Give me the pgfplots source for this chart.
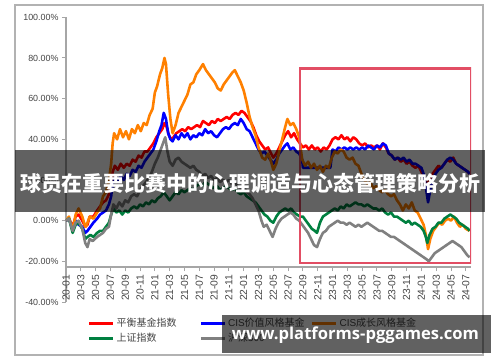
\documentclass[border=0pt]{standalone}
\usepackage{pgfplots}
\pgfplotsset{compat=1.18}
\usepackage{fontspec}
\setmainfont{Liberation Sans}
\newfontfamily\cjk{Noto Sans CJK SC}
\newfontfamily\urlfont{Open Sans}
\definecolor{sRed}{RGB}{255,0,0}
\definecolor{sBlue}{RGB}{0,0,255}
\definecolor{sOrange}{RGB}{255,128,0}
\definecolor{sGreen}{RGB}{0,128,64}
\definecolor{sGray}{RGB}{128,128,128}
\definecolor{rectRed}{RGB}{226,78,100}
\definecolor{axGray}{RGB}{166,166,166}
\definecolor{lblGray}{RGB}{70,70,70}
\begin{document}
\begin{tikzpicture}
\useasboundingbox (0pt,0pt) rectangle (500pt,-362pt);
\fill[white] (0pt,0pt) rectangle (500pt,-362pt);
\draw[black!30, line width=1.2pt] (15pt,-5pt) rectangle (483pt,-355pt);
\begin{axis}[
  at={(66pt,-302pt)}, anchor=south west,
  width=405pt, height=284.7pt, scale only axis,
  xmin=0, xmax=54.7, ymin=-40, ymax=100,
  axis x line*=bottom, axis y line*=left,
  axis x line shift=-35pt,
  axis line style={axGray, line width=1.5pt, -},
  tick style={axGray, line width=1pt},
  tick align=outside, major tick length=4pt,
  xtick={0,2,...,54},
  xticklabels={20-01,20-03,20-05,20-07,20-09,20-11,21-01,21-03,21-05,21-07,21-09,21-11,22-01,22-03,22-05,22-07,22-09,22-11,23-01,23-03,23-05,23-07,23-09,23-11,24-01,24-03,24-05,24-07},
  ytick={-40,-20,...,100},
  yticklabels={-40.00\%,-20.00\%,0.00\%,20.00\%,40.00\%,60.00\%,80.00\%,100.00\%},
  xticklabel style={rotate=90, anchor=east, font=\fontsize{10.3}{12}\selectfont, text=lblGray},
  yticklabel style={font=\fontsize{8.9}{10}\selectfont, text=lblGray},
  every axis plot/.append style={line width=2.6pt, line join=round},
  legend style={at={(axis description cs:0.054,-0.05)}, anchor=north west, draw=none, fill=none,
    font=\fontsize{10}{12}\selectfont, text=lblGray, legend columns=3,
    /tikz/every even column/.append style={column sep=0pt}, row sep=1pt, inner sep=0pt},
  legend image code/.code={\draw[#1, line width=2.5pt] (0pt,0pt) -- (24pt,0pt);},
  legend cell align=left,
]
\addplot[sRed] coordinates {(0,0) (0.4,1) (0.9,-3) (1.3,2) (1.7,3) (2.2,0) (2.6,-3) (2.9,-2) (3.2,2) (3.7,2) (4.2,5) (4.6,7) (5.0,9) (5.4,10) (5.8,13) (6.1,18) (6.3,24) (6.6,27) (7.0,25) (7.4,28) (7.8,26) (8.2,28) (8.6,27) (9.0,30) (9.4,29) (9.8,32) (10.2,31) (10.6,34) (11.0,34) (11.4,36) (11.8,38) (12.2,41) (12.6,43) (13.0,45) (13.3,48) (13.6,46) (13.9,42) (14.2,40) (14.5,41) (14.9,43) (15.3,44) (15.7,45) (16.1,44) (16.5,46) (16.9,45) (17.3,46) (17.7,47) (18.1,46) (18.5,49) (18.9,48) (19.3,47) (19.7,49) (20.1,48) (20.5,50) (20.9,49) (21.3,50) (21.7,51) (22.1,50) (22.5,52) (22.9,53) (23.3,52) (23.7,54) (24.1,53) (24.5,51) (24.9,49) (25.3,46) (25.7,42) (26.1,39) (26.5,37) (26.9,35) (27.3,36) (27.7,33) (28.0,31) (28.4,33) (28.8,36) (29.2,39) (29.6,42) (30.0,44) (30.4,41) (30.8,43) (31.2,40) (31.6,38) (32.0,36) (32.4,37) (32.8,35) (33.2,37) (33.6,35) (34.0,36) (34.4,34) (34.8,36) (35.2,35) (35.6,37) (36.0,40) (36.4,41) (36.8,40) (37.2,42) (37.6,40) (38.0,41) (38.4,39) (38.8,41) (39.2,40) (39.6,38) (40.0,37) (40.4,38) (40.8,36) (41.2,37) (41.6,36) (42.0,37) (42.4,35) (42.8,38) (43.2,36) (43.6,33) (44.0,32) (44.4,30) (44.8,31) (45.2,29) (45.6,30) (46.0,28) (46.4,29) (46.8,27) (47.2,26) (47.6,27) (48.0,24) (48.4,22) (48.8,17) (49.1,20) (49.5,23) (49.9,25) (50.3,27) (50.7,26) (51.1,28) (51.5,30) (51.9,29) (52.3,31) (52.7,28) (53.1,27) (53.5,26) (53.9,25) (54.3,24) (54.5,23)};
\addlegendentry{\makebox[81pt][l]{\cjk 平衡基金指数}}
\addplot[sBlue] coordinates {(0,0) (0.4,1) (0.9,-4) (1.3,0) (1.7,-2) (2.2,-3) (2.6,-6) (2.9,-5) (3.3,-3) (3.7,-1) (4.2,1) (4.6,3) (5.0,4) (5.4,5) (5.8,8) (6.1,12) (6.3,18) (6.6,21) (7.0,19) (7.4,22) (7.8,20) (8.2,23) (8.6,22) (9.0,25) (9.4,24) (9.8,27) (10.2,26) (10.6,29) (11.0,31) (11.4,33) (11.8,35) (12.2,39) (12.6,44) (12.9,47) (13.2,53) (13.5,50) (13.8,43) (14.1,40) (14.4,39) (14.8,42) (15.2,40) (15.6,43) (16.0,41) (16.4,43) (16.8,40) (17.2,42) (17.6,41) (18.0,43) (18.4,42) (18.8,45) (19.2,43) (19.6,44) (20.0,42) (20.4,41) (20.8,43) (21.2,45) (21.6,46) (22.0,45) (22.4,47) (22.8,48) (23.2,47) (23.6,50) (24.0,48) (24.4,45) (24.8,44) (25.2,41) (25.6,38) (26.0,35) (26.4,33) (26.8,34) (27.2,32) (27.6,30) (28.0,28) (28.4,30) (28.8,33) (29.2,35) (29.6,37) (29.9,38) (30.3,35) (30.7,36) (31.1,34) (31.5,33) (31.9,30) (32.0,26) (35.7,26) (36.0,35) (36.4,34) (36.8,36) (37.2,35) (37.6,36) (38.0,35) (38.4,36) (38.8,35) (39.2,36) (39.6,35) (40.0,36) (40.4,35) (40.8,37) (41.2,36) (41.6,35) (42.0,37) (42.4,36) (42.8,38) (43.2,37) (43.6,33) (44.0,32) (44.4,30) (44.8,31) (45.2,30) (45.6,31) (46.0,29) (46.4,30) (46.8,28) (47.2,28) (47.6,27) (48.0,26) (48.4,22) (48.7,14) (48.9,9) (49.2,15) (49.5,20) (49.9,23) (50.3,25) (50.7,26) (51.1,28) (51.5,30) (51.9,31) (52.3,30) (52.7,28) (53.1,27) (53.5,26) (53.9,25) (54.3,24) (54.5,23)};
\addlegendentry{\makebox[81pt][l]{CIS{\cjk 价值风格基金}}}
\addplot[sOrange] coordinates {(0,0) (0.4,2) (0.9,-5) (1.3,3) (1.7,6) (2.2,2) (2.6,-3) (2.8,-2) (3.2,2) (3.7,1) (4.2,4) (4.6,6) (5.0,12) (5.4,14) (5.8,20) (6.1,28) (6.3,38) (6.5,43) (6.9,40) (7.3,45) (7.7,41) (8.1,44) (8.5,40) (8.9,45) (9.3,43) (9.7,47) (10.1,44) (10.5,48) (10.9,47) (11.3,52) (11.7,55) (12.0,63) (12.3,66) (12.7,72) (13.0,75) (13.3,80) (13.5,77) (13.8,62) (14.1,50) (14.4,43) (14.8,47) (15.2,53) (15.6,56) (16.0,59) (16.4,62) (16.8,67) (17.2,68) (17.6,72) (18.0,74) (18.5,77) (18.9,74) (19.3,72) (19.7,70) (20.1,68) (20.5,65) (20.9,64) (21.3,67) (21.7,69) (22.1,71) (22.5,73) (22.8,74) (23.2,71) (23.6,68) (24.0,64) (24.4,58) (24.8,51) (25.2,46) (25.6,42) (26.0,36) (26.5,31) (26.9,30) (27.3,33) (27.7,29) (28.0,25) (28.4,28) (28.8,34) (29.2,40) (29.6,46) (29.9,50) (30.3,47) (30.7,48) (31.1,45) (31.5,41) (31.9,30) (32.3,27) (32.7,29) (33.1,26) (33.5,28) (33.9,25) (34.3,27) (34.7,24) (35.1,27) (35.5,26) (35.9,31) (36.3,34) (36.7,33) (37.1,35) (37.5,34) (37.9,31) (38.3,30) (38.7,31) (39.1,28) (39.5,27) (39.9,23) (40.3,20) (40.7,18) (41.1,19) (41.5,16) (41.9,17) (42.3,15) (42.7,14) (43.1,15) (43.5,13) (43.9,12) (44.3,13) (44.7,10) (45.1,8) (45.5,5) (45.9,8) (46.3,6) (46.7,9) (47.1,5) (47.5,4) (47.9,1) (48.3,-2) (48.6,-7) (48.9,-14) (49.2,-9) (49.6,-5) (50.0,-3) (50.4,-1) (50.8,-2) (51.2,0) (51.6,1) (52.0,0) (52.4,2) (52.8,-1) (53.2,-3) (53.6,-2) (54.0,-4) (54.5,-5)};
\addlegendentry{\makebox[81pt][l]{CIS{\cjk 成长风格基金}}}
\addplot[sGreen] coordinates {(0,0) (0.4,1) (0.9,-6) (1.3,-2) (1.7,-1) (2.2,-4) (2.6,-9) (2.9,-8) (3.3,-7) (3.7,-8) (4.2,-6) (4.6,-5) (5.0,-5) (5.4,-3) (5.8,-1) (6.1,3) (6.4,6) (6.8,4) (7.2,5) (7.6,3) (8.0,5) (8.4,4) (8.8,6) (9.2,7) (9.6,6) (10.0,8) (10.4,7) (10.8,9) (11.2,8) (11.6,10) (12.0,9) (12.4,11) (12.8,12) (13.2,14) (13.6,12) (14.0,10) (14.4,12) (14.8,14) (15.2,13) (15.6,15) (16.0,14) (16.4,15) (16.8,16) (17.2,15) (17.6,17) (18.0,18) (18.4,17) (18.8,19) (19.2,18) (19.6,17) (20.0,16) (20.4,17) (20.8,15) (21.2,16) (21.6,17) (22.0,16) (22.4,15) (22.8,16) (23.2,14) (23.6,13) (24.0,14) (24.4,12) (24.8,11) (25.2,10) (25.6,9) (26.0,7) (26.4,5) (26.8,3) (27.2,2) (27.6,0) (28.0,-1) (28.4,2) (28.8,4) (29.2,5) (29.6,6) (30.0,5) (30.4,6) (30.8,4) (31.2,3) (31.6,2) (32.0,2) (32.4,0) (32.8,-2) (33.2,-4) (33.6,-5) (33.9,-6) (34.3,-1) (34.7,2) (35.1,3) (35.5,4) (35.9,5) (36.3,6) (36.7,5) (37.1,7) (37.5,6) (37.9,8) (38.3,7) (38.7,8) (39.1,9) (39.5,8) (39.9,8) (40.3,7) (40.7,8) (41.1,7) (41.5,6) (41.9,6) (42.3,5) (42.7,6) (43.1,4) (43.5,3) (43.9,4) (44.3,2) (44.7,2) (45.1,1) (45.5,0) (45.9,-1) (46.3,0) (46.7,-2) (47.1,-1) (47.5,-2) (47.9,-3) (48.3,-5) (48.6,-8) (48.8,-11) (49.1,-7) (49.5,-4) (49.9,-3) (50.3,-1) (50.7,-1) (51.1,1) (51.5,2) (51.9,3) (52.3,2) (52.7,1) (53.1,-1) (53.5,-2) (53.9,-3) (54.3,-4) (54.5,-5)};
\addlegendentry{\makebox[81pt][l]{\cjk 上证指数}}
\addplot[sGray] coordinates {(0,0) (0.4,1) (0.9,-5) (1.3,-1) (1.7,0) (2.2,-4) (2.6,-11) (2.9,-13) (3.2,-9) (3.6,-10) (4.2,-8) (4.6,-7) (5.0,-6) (5.4,-4) (5.8,-3) (6.1,3) (6.4,8) (6.8,6) (7.2,9) (7.6,7) (8.0,10) (8.4,9) (8.8,12) (9.2,13) (9.6,12) (10.0,15) (10.4,17) (10.8,19) (11.2,21) (11.6,24) (12.0,28) (12.4,31) (12.8,35) (13.2,39) (13.4,41) (13.7,34) (14.0,29) (14.4,27) (14.8,30) (15.2,31) (15.6,29) (16.0,28) (16.4,27) (16.8,26) (17.2,27) (17.6,25) (18.0,24) (18.4,22) (18.8,23) (19.2,21) (19.6,22) (20.0,20) (20.4,21) (20.8,19) (21.2,20) (21.6,19) (22.0,20) (22.4,18) (22.8,19) (23.2,17) (23.6,16) (24.0,17) (24.4,14) (24.8,13) (25.2,11) (25.6,8) (26.0,5) (26.4,0) (26.7,-3) (27.1,-2) (27.5,-5) (27.9,-8) (28.3,-4) (28.7,-1) (29.1,1) (29.5,2) (29.9,3) (30.3,4) (30.7,3) (31.1,1) (31.5,0) (31.9,-2) (32.3,-4) (32.7,-6) (33.1,-9) (33.5,-12) (33.9,-13) (34.3,-9) (34.7,-6) (35.1,-5) (35.5,-3) (35.9,-2) (36.3,-1) (36.7,0) (37.1,-1) (37.5,-1) (37.9,-2) (38.3,-1) (38.7,-2) (39.1,-3) (39.5,-2) (39.9,-3) (40.3,-2) (40.7,-1) (41.1,-2) (41.5,-3) (41.9,-4) (42.3,-5) (42.7,-5) (43.1,-6) (43.5,-7) (43.9,-8) (44.3,-8) (44.7,-9) (45.1,-10) (45.5,-11) (45.9,-12) (46.3,-13) (46.7,-14) (47.1,-15) (47.5,-16) (47.9,-17) (48.3,-18) (48.7,-19) (49.0,-20) (49.4,-18) (49.8,-16) (50.2,-15) (50.6,-14) (51.0,-13) (51.4,-12) (51.8,-11) (52.2,-10) (52.6,-11) (53.0,-12) (53.4,-13) (53.8,-15) (54.2,-17) (54.5,-18)};
\addlegendentry{\makebox[81pt][l]{\cjk 沪深300}}
\draw[rectRed, line width=2.5pt] (axis cs:31.6,74.8) rectangle (axis cs:54.7,-20.8);
\end{axis}
\fill[black, fill opacity=0.62] (15pt,-150pt) rectangle (485pt,-212pt);
\node[white, inner sep=0pt] at (250pt,-184pt) {\fontsize{20.9}{24}\selectfont\cjk\bfseries 球员在重要比赛中的心理调适与心态管理策略分析};
\fill[black, fill opacity=0.62] (222pt,-315pt) rectangle (491pt,-353pt);
\node[white, inner sep=0pt] at (355.5pt,-335.5pt) {\resizebox{247pt}{!}{\urlfont\bfseries www.platforms-pggames.com}};
\end{tikzpicture}
\end{document}
